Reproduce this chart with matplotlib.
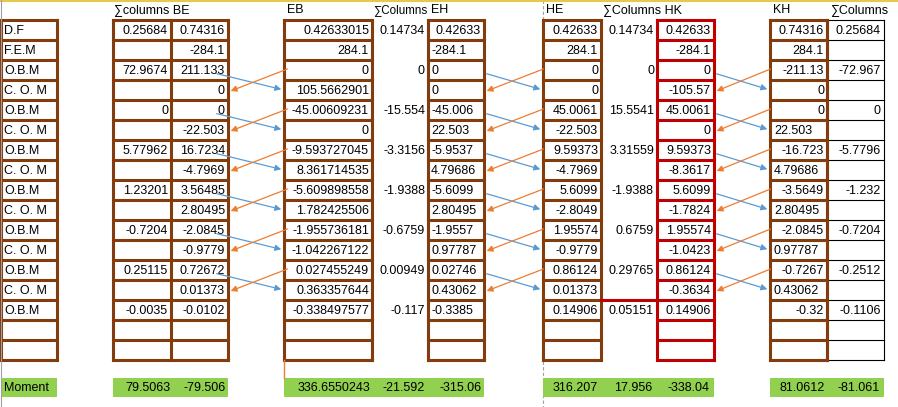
import matplotlib
matplotlib.use("Agg")
import matplotlib.pyplot as plt
from matplotlib.patches import Rectangle

labels = ["D.F", "F.E.M", "O.B.M", "C. O. M", "O.B.M", "C. O. M", "O.B.M", "C. O. M",
          "O.B.M", "C. O. M", "O.B.M", "C. O. M", "O.B.M", "C. O. M", "O.B.M", "", ""]
be1 = ["0.25684", "", "72.9674", "", "0", "", "5.77962", "", "1.23201", "", "-0.7204", "", "0.25115", "", "-0.0035"]
be2 = ["0.74316", "-284.1", "211.133", "0", "0", "-22.503", "16.7234", "-4.7969", "3.56485", "2.80495",
       "-2.0845", "-0.9779", "0.72672", "0.01373", "-0.0102"]
eb = ["0.42633015", "284.1", "0", "105.5662901", "-45.00609231", "0", "-9.593727045", "8.361714535",
      "-5.609898558", "1.782425506", "-1.955736181", "-1.042267122", "0.027455249", "0.363357644", "-0.338497577"]
sum_eh = ["0.14734", "", "0", "", "-15.554", "", "-3.3156", "", "-1.9388", "", "-0.6759", "", "0.00949", "", "-0.117"]
eh = ["0.42633", "-284.1", "0", "0", "-45.006", "22.503", "-5.9537", "4.79686", "-5.6099", "2.80495",
      "-1.9557", "0.97787", "0.02746", "0.43062", "-0.3385"]
he = ["0.42633", "284.1", "0", "0", "45.0061", "-22.503", "9.59373", "-4.7969", "5.6099", "-2.8049",
      "1.95574", "-0.9779", "0.86124", "0.01373", "0.14906"]
sum_hk = ["0.14734", "", "0", "", "15.5541", "", "3.31559", "", "-1.9388", "", "0.6759", "", "0.29765", "", "0.05151"]
hk = ["0.42633", "-284.1", "0", "-105.57", "45.0061", "0", "9.59373", "-8.3617", "5.6099", "-1.7824",
      "1.95574", "-1.0423", "0.86124", "-0.3634", "0.14906"]
kh = ["0.74316", "284.1", "-211.13", "0", "0", "22.503", "-16.723", "4.79686", "-3.5649", "2.80495",
      "-2.0845", "0.97787", "-0.7267", "0.43062", "-0.32"]
sum_kh = ["0.25684", "", "-72.967", "", "0", "", "-5.7796", "", "-1.232", "", "-0.7204", "", "-0.2512", "", "-0.1106"]
eh_left = [1, 2, 3, 4, 5, 6, 7, 8, 9, 10, 11, 12, 13, 14]
kh_left = [5, 7, 9, 11, 13]
moments = [("79.5063", 170), ("-79.506", 226), ("336.6550243", 370), ("-21.592", 425), ("-315.06", 482),
           ("316.207", 598), ("17.956", 652), ("-338.04", 710), ("81.0612", 825), ("-81.061", 880)]
headers = [("∑columns BE", 114), ("EB", 287), ("∑Columns", 373), ("EH", 431), ("HE", 546),
           ("∑Columns HK", 603), ("KH", 773), ("∑Columns", 830)]

plt.rcParams['font.family'] = ['Liberation Sans', 'DejaVu Sans']
FS = 9.0
fig = plt.figure(figsize=(8.98, 4.07), dpi=100)
ax = fig.add_axes([0, 0, 1, 1])
ax.set_xlim(0, 898); ax.set_ylim(407, 0); ax.axis('off')

BROWN = "#843C0C"; RED = "#C00000"; BLUE = "#5B9BD5"; ORANGE = "#ED7D31"; GREEN = "#92D050"
TOP, RH, NR = 20, 20, 17
LW = 2.2

def ycen(i):
    return TOP + RH * i + RH / 2

def grid(xs, color, lw=LW):
    y0, y1 = TOP, TOP + RH * NR
    for k in range(NR + 1):
        ax.plot([xs[0], xs[-1]], [TOP + RH * k] * 2, color=color, lw=lw, solid_capstyle='projecting')
    for x in xs:
        ax.plot([x, x], [y0, y1], color=color, lw=lw, solid_capstyle='projecting')

grid([1, 57], BROWN)
grid([113, 171, 228], BROWN)
grid([284, 372], BROWN)
grid([428, 484], BROWN)
grid([543, 601], BROWN)
grid([770, 827], BROWN)
for k in range(NR + 1):
    ax.plot([827, 884], [TOP + RH * k] * 2, color="black", lw=0.8)
ax.plot([884, 884], [TOP, TOP + RH * NR], color="black", lw=0.8)
ax.plot([827, 827], [TOP, TOP + RH * NR], color=BROWN, lw=LW)
grid([657, 714], RED)
ax.plot([601, 657], [300, 300], color=RED, lw=LW)
ax.plot([543, 543], [0, 407], color="#A0A0A0", lw=0.8, ls=(0, (3, 2)), zorder=0)
ax.plot([284, 284], [360, 378], color=ORANGE, lw=1)
ax.plot([0, 898], [0.5, 0.5], color="#E6C84A", lw=1.5)
ax.plot([1, 1], [0, 407], color="#A0A0A0", lw=0.8)

def put(vals, xr, xl=None, lefts=()):
    for i, v in enumerate(vals):
        if not v:
            continue
        if i in lefts:
            ax.text(xl, ycen(i) + 1, v, ha='left', va='center', fontsize=FS)
        else:
            ax.text(xr, ycen(i) + 1, v, ha='right', va='center', fontsize=FS)

for i, v in enumerate(labels):
    ax.text(4, ycen(i) + 1, v, ha='left', va='center', fontsize=FS)
put(be1, 168); put(be2, 225); put(eb, 369); put(sum_eh, 425)
put(eh, 481, 431, eh_left); put(he, 598); put(sum_hk, 654); put(hk, 711)
put(kh, 824, 774, kh_left); put(sum_kh, 881)

for t, x in headers:
    ax.text(x, 10, t, ha='left', va='center', fontsize=FS - 0.6 if t == "∑Columns" and x < 400 else FS)

for x0, x1 in [(1, 57), (113, 228), (284, 484), (543, 714), (770, 884)]:
    ax.add_patch(Rectangle((x0, 378), x1 - x0, 19, color=GREEN, lw=0))
ax.text(4, 388, "Moment", ha='left', va='center', fontsize=FS)
for t, x in moments:
    ax.text(x, 388, t, ha='right', va='center', fontsize=FS)

obm_rows = [2, 4, 6, 8, 10, 12]
gaps = [(214, 228, 284, 290), (484, 484, 543, 546), (714, 714, 770, 773)]
for r in obm_rows:
    for bs, ol, br, os_ in gaps:
        ax.annotate("", xy=(br, ycen(r + 1)), xytext=(bs, ycen(r) + 3),
                    arrowprops=dict(arrowstyle="-|>", color=BLUE, lw=0.9, mutation_scale=9))
        ax.annotate("", xy=(ol, ycen(r + 1) + 2), xytext=(os_, ycen(r) - 2),
                    arrowprops=dict(arrowstyle="-|>", color=ORANGE, lw=0.9, mutation_scale=9))

fig.savefig("out.png", dpi=100)
